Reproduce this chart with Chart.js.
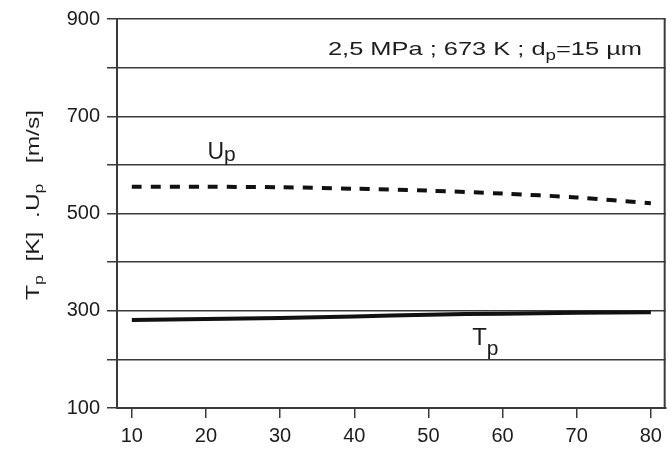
<!DOCTYPE html>
<html><head><meta charset="utf-8">
<script src="https://cdn.jsdelivr.net/npm/chart.js@4.4.1/dist/chart.umd.min.js"></script>
<style>html,body{margin:0;padding:0;background:#fff}#wrap{width:668px;height:458px}</style>
</head><body><div id="wrap"><canvas id="c" width="668" height="458"></canvas></div>
<script>
// ---- data ----
const xValues  = [10, 20, 30, 40, 50, 60, 70, 80];
const upValues = [555, 555, 554, 551, 547, 541, 533, 521];   // U_p [m/s]
const tpValues = [281, 283, 285, 288, 292, 294, 296, 297];   // T_p [K]
const xTicks   = [10, 20, 30, 40, 50, 60, 70, 80];
const yTicks   = [100, 200, 300, 400, 500, 600, 700, 800, 900];
const yTickLabels = ['100', '', '300', '', '500', '', '700', '', '900'];
const annotation = ['2,5 MPa ; 673 K ; d', 'p', '=15 µm'];

const FONT = '"Liberation Sans", Arial, Helvetica, sans-serif';
const INK = '#1c1c1c';
const GRID = '#3a3a3a';

function drawRuns(ctx, runs, x, y, targetW, align) {
  let w = 0;
  runs.forEach(r => { ctx.font = r.size + 'px ' + FONT; r.w = ctx.measureText(r.t).width; w += r.w; });
  const sx = targetW ? targetW / w : 1;
  ctx.save();
  ctx.translate(x - (align === 'right' ? w * sx : 0), y);
  ctx.scale(sx, 1);
  ctx.fillStyle = INK;
  ctx.textBaseline = 'alphabetic';
  ctx.textAlign = 'left';
  let cx = 0;
  runs.forEach(r => { ctx.font = r.size + 'px ' + FONT; ctx.fillText(r.t, cx, r.dy || 0); cx += r.w; });
  ctx.restore();
}

const decor = {
  id: 'decor',
  afterDraw(chart) {
    const ctx = chart.ctx, a = chart.chartArea;
    const xs = chart.scales.x, ys = chart.scales.y;
    // right frame
    ctx.save();
    ctx.strokeStyle = GRID; ctx.lineWidth = 2;
    ctx.beginPath(); ctx.moveTo(a.right - 1, a.top); ctx.lineTo(a.right - 1, a.bottom); ctx.stroke();
    ctx.restore();
    // annotation box text
    drawRuns(ctx, [
      {t: annotation[0], size: 19},
      {t: annotation[1], size: 14, dy: 5},
      {t: annotation[2], size: 19}
    ], xs.getPixelForValue(78.8), ys.getPixelForValue(825), 314, 'right');
    // series labels
    drawRuns(ctx, [{t: 'U', size: 23}, {t: 'p', size: 21, dy: 2}],
      xs.getPixelForValue(20.2), ys.getPixelForValue(613), 0, 'left');
    drawRuns(ctx, [{t: 'T', size: 24}, {t: 'p', size: 21, dy: 10}],
      xs.getPixelForValue(55.9), ys.getPixelForValue(229), 0, 'left');
    // y axis title (rotated)
    ctx.save();
    ctx.translate(39, 300);
    ctx.rotate(-Math.PI / 2);
    drawRuns(ctx, [
      {t: 'T', size: 18},
      {t: 'p', size: 13, dy: 4},
      {t: '  [K]  .U', size: 18},
      {t: 'p', size: 13, dy: 4},
      {t: '   [m/s]', size: 18}
    ], 0, 0, 190, 'left');
    ctx.restore();
  }
};

new Chart(document.getElementById('c'), {
  type: 'line',
  data: {
    datasets: [
      {
        label: 'Up',
        data: xValues.map((x, i) => ({x, y: upValues[i]})),
        borderColor: '#111', borderWidth: 4, borderDash: [10, 9],
        pointRadius: 0, tension: 0.3, fill: false
      },
      {
        label: 'Tp',
        data: xValues.map((x, i) => ({x, y: tpValues[i]})),
        borderColor: '#111', borderWidth: 4,
        pointRadius: 0, tension: 0.3, fill: false
      }
    ]
  },
  options: {
    responsive: false, animation: false, devicePixelRatio: 1,
    layout: {padding: {left: 0, right: 1, top: 18, bottom: 0}},
    plugins: {legend: {display: false}, tooltip: {enabled: false}},
    scales: {
      x: {
        type: 'linear', min: 8, max: 82,
        afterBuildTicks: s => { s.ticks = xTicks.map(v => ({value: v})); },
        afterFit: s => { s.height = 50; },
        grid: {drawOnChartArea: false, drawTicks: true, tickLength: 10, color: GRID, lineWidth: 1.5},
        border: {display: true, color: GRID, width: 2},
        ticks: {font: {family: FONT, size: 20}, color: INK, padding: 6, maxRotation: 0, autoSkip: false,
                callback: v => String(v)}
      },
      y: {
        type: 'linear', min: 100, max: 900,
        afterBuildTicks: s => { s.ticks = yTicks.map(v => ({value: v})); },
        afterFit: s => { s.width = 117; },
        grid: {drawTicks: true, tickLength: 10, color: GRID, lineWidth: 1.5},
        border: {display: true, color: GRID, width: 2},
        ticks: {font: {family: FONT, size: 20}, color: INK, padding: 7, autoSkip: false,
                callback: (v) => yTickLabels[yTicks.indexOf(v)]}
      }
    }
  },
  plugins: [decor]
});
</script>
</body></html>
